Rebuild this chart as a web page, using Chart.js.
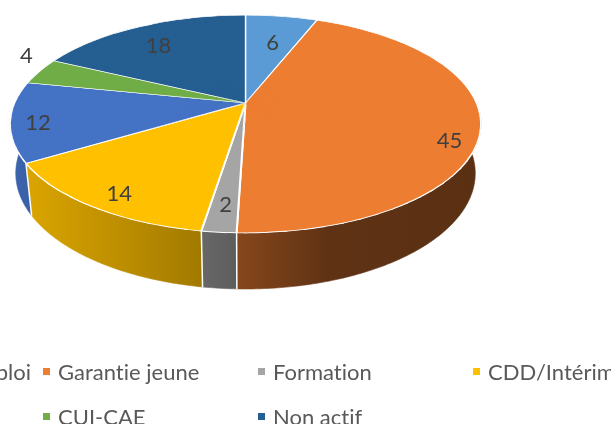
<!DOCTYPE html>
<html>
<head>
<meta charset="utf-8">
<script src="https://cdn.jsdelivr.net/npm/chart.js@4.4.1/dist/chart.umd.min.js"></script>
<style>
  html, body { margin: 0; padding: 0; background: #ffffff; overflow: hidden; }
  #wrap { position: relative; width: 611px; height: 424px; overflow: hidden; background: #fff; }
  #c { position: absolute; left: 0; top: 0; }
  #legend { position: absolute; left: 0; top: 0; width: 611px; height: 424px; pointer-events: none; }
  .item { position: absolute; height: 24px; display: flex; align-items: center; white-space: nowrap;
          font-family: Lato, "Open Sans", sans-serif; font-size: 22px; color: #595959;
          font-variant-ligatures: none; font-feature-settings: "liga" 0, "dlig" 0, "clig" 0; }
  .sw { display: inline-block; width: 7px; height: 7px; margin-right: 8px; flex: none; }
</style>
</head>
<body>
<div id="wrap">
  <canvas id="c" width="611" height="424"></canvas>
  <div id="legend"></div>
</div>
<script>
// ---- data ----
const categories = ["Recherche d'emploi", "Garantie jeune", "Formation", "CDD/Intérim", "CDI", "CUI-CAE", "Non actif"];
const values = [6, 45, 2, 14, 12, 4, 18];
const palette = ['#5B9BD5', '#ED7D31', '#A5A5A5', '#FFC000', '#4472C4', '#70AD47', '#255E91'];

// ---- 3D view (camera) ----
const VIEW = { cx: 245.5, cy: 103, focal: 1068.6, dist: 4.626, tilt: 27 * Math.PI / 180, depth: 0.2414 };
function project(u, v, h) {
  const s = Math.sin(VIEW.tilt), c = Math.cos(VIEW.tilt);
  const z = VIEW.dist - h * s - v * c;
  return { x: VIEW.cx + VIEW.focal * u / z, y: VIEW.cy + VIEW.focal * (v * s - h * c) / z };
}
const rimTop = a => project(Math.cos(a), Math.sin(a), 0);
const rimBot = a => project(Math.cos(a), Math.sin(a), -VIEW.depth);

function shade(hex, f) {
  const n = parseInt(hex.slice(1), 16);
  return 'rgb(' + Math.round(((n >> 16) & 255) * f) + ',' + Math.round(((n >> 8) & 255) * f) + ',' + Math.round((n & 255) * f) + ')';
}
const SIDE_STOPS = [[0, 0.88], [0.382, 0.65], [0.51, 0.54], [0.679, 0.40], [1, 0.38]];
const LABEL_FONT = 22, INSET = 28, OUTSIDE = 20;

const pie3d = {
  id: 'pie3d',
  beforeDatasetsDraw(chart) {
    const ctx = chart.ctx;
    const arcs = chart.getDatasetMeta(0).data;
    const ds = chart.data.datasets[0];
    let xmin = Infinity, xmax = -Infinity;
    for (let i = 0; i < 1440; i++) { const p = rimTop(i * Math.PI / 720); xmin = Math.min(xmin, p.x); xmax = Math.max(xmax, p.x); }
    const ytop = rimTop(-Math.PI / 2).y, ybot = rimTop(Math.PI / 2).y;
    const E = { x: (xmin + xmax) / 2, y: (ytop + ybot) / 2, rx: (xmax - xmin) / 2, ry: (ybot - ytop) / 2 };
    const apex = project(0, 0, 0);

    // side walls
    ctx.save();
    arcs.forEach(el => {
      const a0 = Math.max(el.startAngle, 0), a1 = Math.min(el.endAngle, Math.PI);
      if (a1 <= a0) return;
      const base = el.options.backgroundColor;
      const g = ctx.createLinearGradient(xmin, 0, xmax, 0);
      SIDE_STOPS.forEach(([t, f]) => g.addColorStop(t, shade(base, f)));
      const n = Math.max(2, Math.ceil((a1 - a0) / 0.01));
      ctx.beginPath();
      for (let k = 0; k <= n; k++) { const p = rimTop(a0 + (a1 - a0) * k / n); if (k) ctx.lineTo(p.x, p.y); else ctx.moveTo(p.x, p.y); }
      for (let k = n; k >= 0; k--) { const p = rimBot(a0 + (a1 - a0) * k / n); ctx.lineTo(p.x, p.y); }
      ctx.closePath();
      ctx.fillStyle = g; ctx.fill();
      ctx.strokeStyle = g; ctx.lineWidth = 0.6; ctx.stroke();
    });
    ctx.strokeStyle = '#ffffff'; ctx.lineWidth = 1.5;
    arcs.forEach(el => {
      const a = el.startAngle;
      if (a > 0 && a < Math.PI && Math.sin(a) > 0.2) {
        const p = rimTop(a), q = rimBot(a);
        ctx.beginPath(); ctx.moveTo(p.x, p.y); ctx.lineTo(q.x, q.y); ctx.stroke();
      }
    });
    ctx.restore();

    // top face: library arcs drawn through a piecewise-affine perspective mapping
    const ex = arcs[0].x, ey = arcs[0].y, R = arcs[0].outerRadius;
    const N = 90, step = 2 * Math.PI / N, d = 1.5;
    for (let j = 0; j < N; j++) {
      const a1 = -Math.PI / 2 + j * step, a2 = a1 + step;
      const S1 = rimTop(a1), S2 = rimTop(a2);
      const p1x = R * Math.cos(a1), p1y = R * Math.sin(a1), p2x = R * Math.cos(a2), p2y = R * Math.sin(a2);
      const q1x = S1.x - apex.x, q1y = S1.y - apex.y, q2x = S2.x - apex.x, q2y = S2.y - apex.y;
      const det = p1x * p2y - p2x * p1y;
      const m00 = (q1x * p2y - q2x * p1y) / det, m01 = (q2x * p1x - q1x * p2x) / det;
      const m10 = (q1y * p2y - q2y * p1y) / det, m11 = (q2y * p1x - q1y * p2x) / det;
      ctx.save();
      ctx.transform(m00, m10, m01, m11, apex.x - (m00 * ex + m01 * ey), apex.y - (m10 * ex + m11 * ey));
      // clip: sector widened by a constant margin on both radial edges (no seams)
      const RR = R * 1.1;
      const n1x = Math.sin(a1), n1y = -Math.cos(a1);     // outward normal of edge a1
      const n2x = -Math.sin(a2), n2y = Math.cos(a2);     // outward normal of edge a2
      ctx.beginPath();
      ctx.moveTo(ex + d * n2x, ey + d * n2y);
      ctx.lineTo(ex + d * n1x, ey + d * n1y);
      ctx.lineTo(ex + d * n1x + RR * Math.cos(a1), ey + d * n1y + RR * Math.sin(a1));
      ctx.lineTo(ex + RR * 1.02 * Math.cos((a1 + a2) / 2), ey + RR * 1.02 * Math.sin((a1 + a2) / 2));
      ctx.lineTo(ex + d * n2x + RR * Math.cos(a2), ey + d * n2y + RR * Math.sin(a2));
      ctx.closePath();
      ctx.clip();
      arcs.forEach(el => el.draw(ctx));
      ctx.restore();
    }

    // data labels
    ctx.save();
    ctx.font = LABEL_FONT + 'px Lato';
    ctx.fillStyle = '#404040';
    ctx.textAlign = 'center';
    ctx.textBaseline = 'middle';
    const param = p => Math.atan2((p.y - E.y) / E.ry, (p.x - E.x) / E.rx);
    arcs.forEach((el, i) => {
      const S1 = rimTop(el.startAngle), S2 = rimTop(el.endAngle);
      const t1 = param(S1); let t2 = param(S2);
      while (t2 < t1) t2 += 2 * Math.PI;
      const tm = (t1 + t2) / 2;
      const Q = { x: E.x + E.rx * Math.cos(tm), y: E.y + E.ry * Math.sin(tm) };
      const dx = Q.x - E.x, dy = Q.y - E.y, len = Math.hypot(dx, dy);
      let L = { x: Q.x - INSET * dx / len, y: Q.y - INSET * dy / len };
      const text = String(ds.data[i]);
      const hw = ctx.measureText(text).width / 2, hh = LABEL_FONT * 0.6;
      const fits = [S1, S2].every(S => {
        const ux = S.x - apex.x, uy = S.y - apex.y, ul = Math.hypot(ux, uy);
        const nx = -uy / ul, ny = ux / ul;
        const dd = Math.abs((L.x - apex.x) * nx + (L.y - apex.y) * ny);
        return dd >= hw * Math.abs(nx) + hh * Math.abs(ny);
      });
      if (!fits) {
        const nx = Math.cos(tm) / E.rx, ny = Math.sin(tm) / E.ry, nl = Math.hypot(nx, ny);
        L = { x: Q.x + OUTSIDE * nx / nl, y: Q.y + OUTSIDE * ny / nl };
      }
      ctx.fillText(text, L.x, L.y);
    });
    ctx.restore();
    return false;
  }
};

new Chart(document.getElementById('c'), {
  type: 'pie',
  data: {
    labels: categories,
    datasets: [{ data: values, backgroundColor: palette, borderColor: '#ffffff', borderWidth: 1.5 }]
  },
  options: {
    responsive: false,
    animation: false,
    events: [],
    layout: { padding: 0 },
    plugins: { legend: { display: false }, tooltip: { enabled: false } }
  },
  plugins: [pie3d]
});

// ---- legend (4-column grid, as in the original) ----
const LEG = { x0: -172, dx: 215, y0: 371, dy: 45, cols: 4 };
const legendEl = document.getElementById('legend');
categories.forEach((name, i) => {
  const col = i % LEG.cols, row = Math.floor(i / LEG.cols);
  const item = document.createElement('div');
  item.className = 'item';
  item.style.left = (LEG.x0 + col * LEG.dx) + 'px';
  item.style.top = (LEG.y0 + row * LEG.dy - 12) + 'px';
  const sw = document.createElement('span');
  sw.className = 'sw';
  sw.style.background = palette[i];
  item.appendChild(sw);
  item.appendChild(document.createTextNode(name));
  legendEl.appendChild(item);
});
</script>
</body>
</html>
